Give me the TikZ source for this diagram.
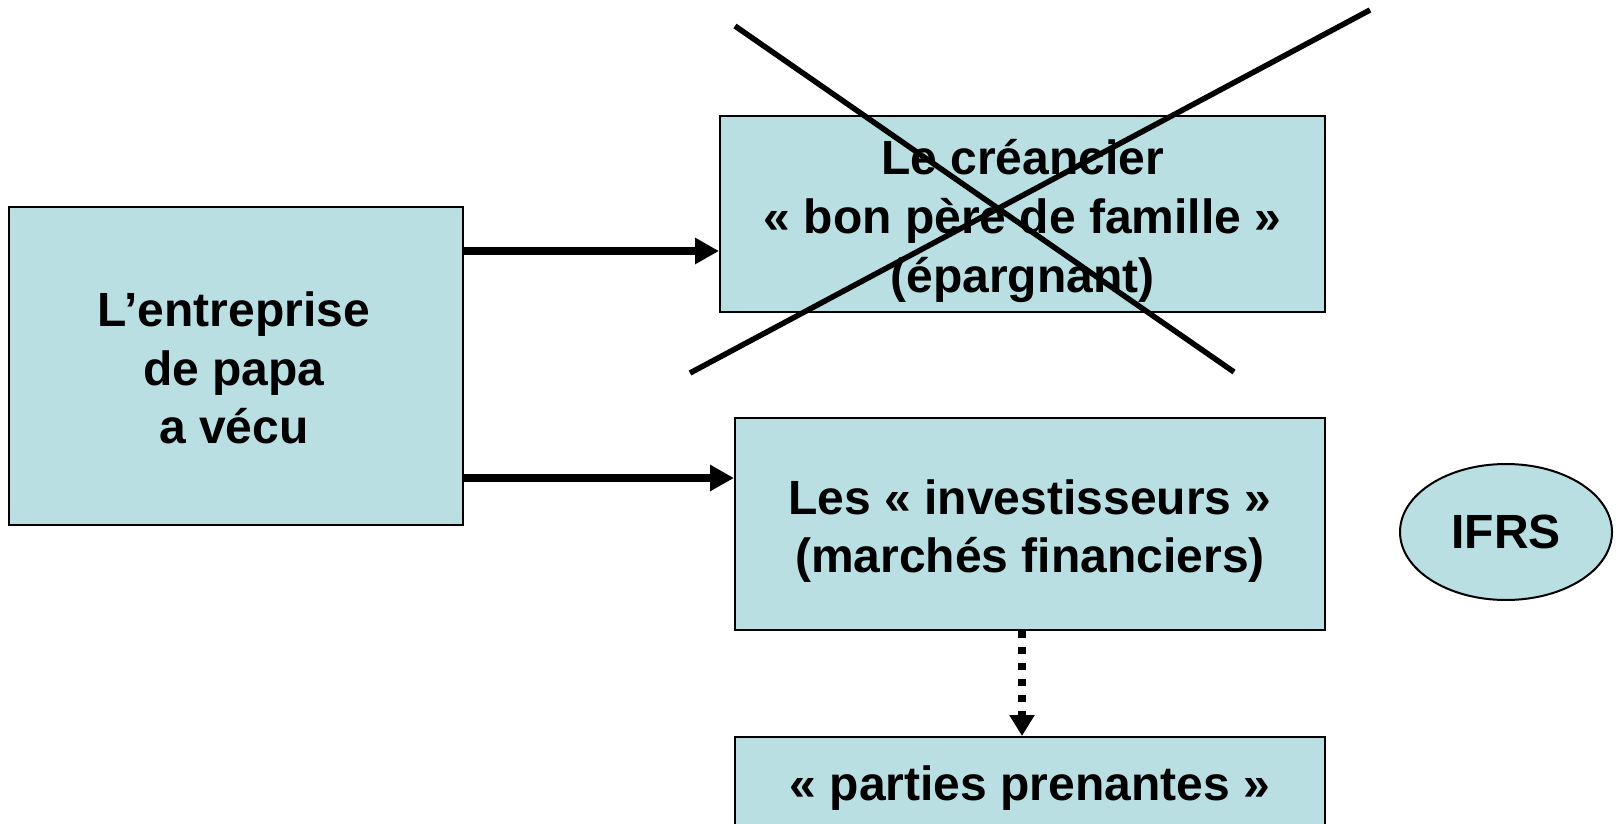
\documentclass[tikz,border=0pt]{standalone}
\usepackage{fontspec}
\setmainfont{Liberation Sans}
\usetikzlibrary{arrows.meta,shapes.geometric}
\definecolor{boxfill}{HTML}{B9DFE3}
\tikzset{
  boxtext/.style={align=center, font=\fontsize{48}{58.6}\selectfont\bfseries, inner sep=0pt},
  box/.style={draw=black, line width=2pt, fill=boxfill, inner sep=0pt},
  conn/.style={line width=7.5pt, -{Triangle[length=24pt,width=25pt]}},
  dotconn/.style={line width=7.5pt, dash pattern=on 7pt off 9pt,
    -{Triangle[length=21pt,width=24pt]}},
  cross/.style={line width=5.5pt},
}
\begin{document}
\begin{tikzpicture}[x=1pt,y=-1pt]
\useasboundingbox (0,0) rectangle (1619,824);
\begin{scope}
\clip (0,0) rectangle (1619,824);
\node[box, minimum width=454pt, minimum height=318pt,
  label={[boxtext, yshift=-2pt, xshift=-2pt]center:L’entreprise\\de papa\\a vécu}] (papa) at (236,366) {};
\node[box, minimum width=605pt, minimum height=196pt,
  label={[boxtext, yshift=-7pt]center:Le créancier\\« bon père de famille »\\(épargnant)}] (creancier) at (1022.5,214) {};
\node[box, minimum width=590pt, minimum height=212pt,
  label={[boxtext, yshift=-7pt]center:Les « investisseurs »\\(marchés financiers)}] (invest) at (1030,524) {};
\node[box, minimum width=590pt, minimum height=120pt, anchor=north] (parties) at (1030,736) {};
\node[boxtext] (partiestext) at (1030,788) {« parties prenantes »};
\node[box, ellipse, minimum width=212pt, minimum height=136pt,
  label={[boxtext]center:IFRS}] (ifrs) at (1506,532) {};

% connectors
\draw[conn] (papa.east |- 0,251) -- (creancier.west |- 0,251);
\draw[conn] (papa.east |- 0,478) -- (invest.west |- 0,478);
\draw[dotconn] (invest.south -| 1022,0) -- (parties.north -| 1022,0);

% crossing-out of the creditor box
\draw[cross] (735,26) -- (1234,372);
\draw[cross] (690,373) -- (1370,10);
\end{scope}
\end{tikzpicture}
\end{document}
